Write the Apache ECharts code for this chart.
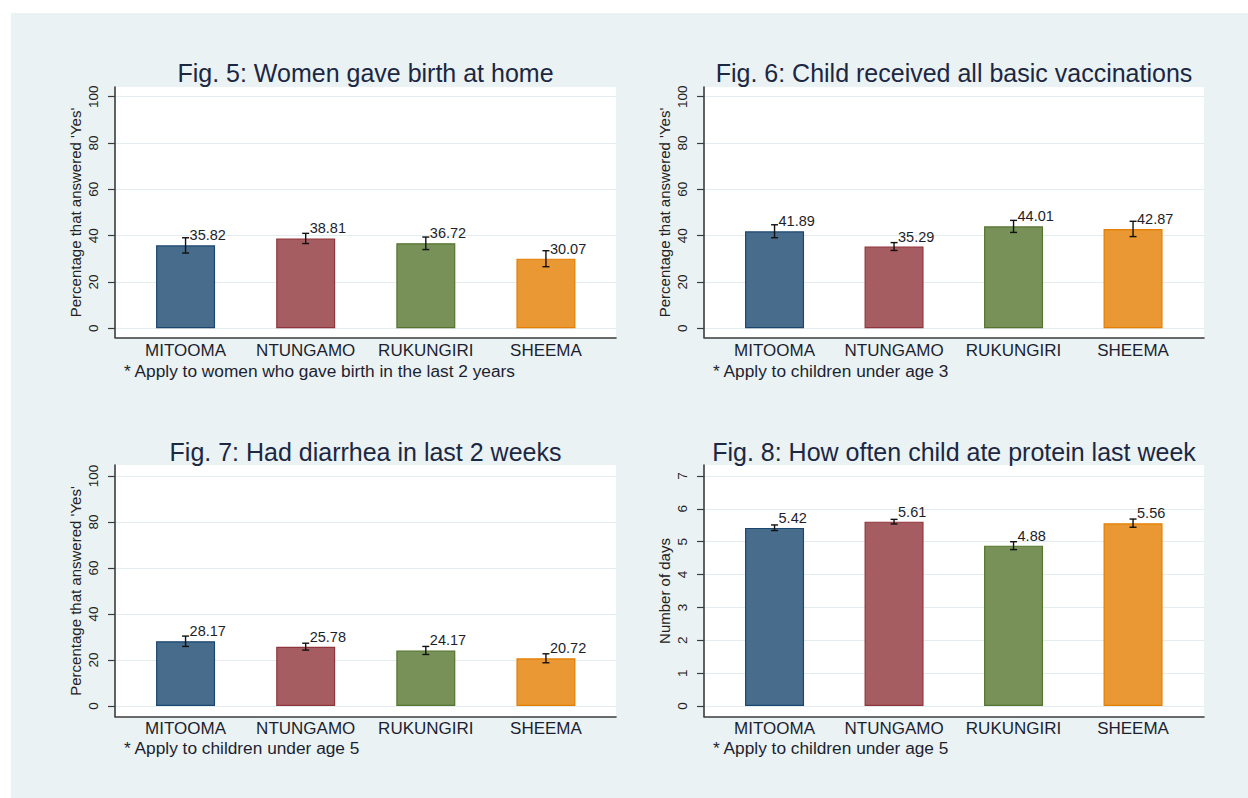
<!DOCTYPE html>
<html>
<head>
<meta charset="utf-8">
<title>District survey indicators</title>
<script src="https://cdn.jsdelivr.net/npm/echarts@6/dist/echarts.min.js"></script>
<style>
  html, body { margin: 0; padding: 0; background: #fff; }
  #chart { width: 1248px; height: 798px; }
</style>
</head>
<body>
<div id="chart"></div>
<script>
// districts shown under every panel
const districts = ['MITOOMA', 'NTUNGAMO', 'RUKUNGIRI', 'SHEEMA'];

// Fig. 5: women who gave birth at home (%), with CI ends
const homeBirth = [35.82, 38.81, 36.72, 30.07];
const homeBirthLow = [32.5, 36.6, 34.0, 26.6];
const homeBirthHigh = [39.1, 41.0, 39.4, 33.5];

// Fig. 6: child received all basic vaccinations (%)
const vaccinated = [41.89, 35.29, 44.01, 42.87];
const vaccinatedLow = [39.1, 33.6, 41.4, 39.6];
const vaccinatedHigh = [44.7, 37.0, 46.6, 46.2];

// Fig. 7: had diarrhea in last 2 weeks (%)
const diarrhea = [28.17, 25.78, 24.17, 20.72];
const diarrheaLow = [25.9, 24.3, 22.4, 18.8];
const diarrheaHigh = [30.4, 27.3, 25.9, 22.7];

// Fig. 8: days child ate protein last week
const proteinDays = [5.42, 5.61, 4.88, 5.56];
const proteinDaysLow = [5.34, 5.54, 4.76, 5.44];
const proteinDaysHigh = [5.51, 5.68, 5.00, 5.69];

// tick labels of the y axes
const pctTicks = [0, 20, 40, 60, 80, 100];
const dayTicks = [0, 1, 2, 3, 4, 5, 6, 7];

// bar fill / outline (stata s2color at 80% intensity)
const barFill = ['#486c8c', '#a65d62', '#779159', '#e99833'];
const barEdge = ['#1a476f', '#90353b', '#55752f', '#e37e00'];

const FONT = '"Liberation Sans", Arial, sans-serif';
const TITLE_COLOR = '#1c2742';
const TEXT_COLOR = '#1c1f30';

const panels = [
    { title: 'Fig. 5: Women gave birth at home', yName: "Percentage that answered 'Yes'",
      note: '* Apply to women who gave birth in the last 2 years',
      values: homeBirth, low: homeBirthLow, high: homeBirthHigh, ticks: pctTicks, col: 0, row: 0 },
    { title: 'Fig. 6: Child received all basic vaccinations', yName: "Percentage that answered 'Yes'",
      note: '* Apply to children under age 3',
      values: vaccinated, low: vaccinatedLow, high: vaccinatedHigh, ticks: pctTicks, col: 1, row: 0 },
    { title: 'Fig. 7: Had diarrhea in last 2 weeks', yName: "Percentage that answered 'Yes'",
      note: '* Apply to children under age 5',
      values: diarrhea, low: diarrheaLow, high: diarrheaHigh, ticks: pctTicks, col: 0, row: 1 },
    { title: 'Fig. 8: How often child ate protein last week', yName: 'Number of days',
      note: '* Apply to children under age 5',
      values: proteinDays, low: proteinDaysLow, high: proteinDaysHigh, ticks: dayTicks, col: 1, row: 1 }
];

// page layout (pixels)
const cols = [
    { frameL: 115, frameR: 616, bandL: 125.5, bandR: 606 },
    { frameL: 704, frameR: 1204, bandL: 714.8, bandR: 1192.8 }
];
const rows = [
    { frameT: 87, frameB: 337.3, zeroY: 328.3, maxY: 96.7, titleY: 72.7, noteY: 370.7 },
    { frameT: 465, frameB: 716.5, zeroY: 706, maxY: 476, titleY: 452, noteY: 748.3 }
];

function renderErr(params, api) {
    const i = api.value(0);
    const v = api.value(1);
    const top = api.coord([i, v]);
    const lo = api.coord([i, api.value(2)]);
    const hi = api.coord([i, api.value(3)]);
    const cap = 3.5;
    const ls = { stroke: '#111', lineWidth: 1.4 };
    return {
        type: 'group',
        children: [
            { type: 'line', shape: { x1: hi[0], y1: hi[1], x2: lo[0], y2: lo[1] }, style: ls },
            { type: 'line', shape: { x1: hi[0] - cap, y1: hi[1], x2: hi[0] + cap, y2: hi[1] }, style: ls },
            { type: 'line', shape: { x1: lo[0] - cap, y1: lo[1], x2: lo[0] + cap, y2: lo[1] }, style: ls },
            {
                type: 'text', x: top[0] + 4, y: top[1] - 10,
                style: { text: v.toFixed(2), fill: '#1e1e28', fontSize: 14.5, fontFamily: FONT,
                         align: 'left', verticalAlign: 'middle' }
            }
        ]
    };
}

const grid = [], xAxis = [], yAxis = [], series = [];
const graphic = [
    { type: 'rect', shape: { x: 11, y: 13, width: 1237, height: 785 }, style: { fill: '#eaf2f3' }, z: -100 }
];

panels.forEach((p) => {
    const c = cols[p.col];
    const r = rows[p.row];
    const yMin = p.ticks[0];
    const yMax = p.ticks[p.ticks.length - 1];
    const step = p.ticks[1] - p.ticks[0];
    const base = grid.length;

    // white plot area + axis lines
    grid.push({ left: c.frameL, top: r.frameT, width: c.frameR - c.frameL, height: r.frameB - r.frameT,
                show: true, backgroundColor: '#fff', borderWidth: 0, outerBoundsMode: 'none' });
    const frameAxis = {
        gridIndex: base, type: 'value', min: 0, max: 1,
        axisLine: { show: true, onZero: false, lineStyle: { color: '#3c3c3c', width: 1.6 } },
        axisTick: { show: false }, axisLabel: { show: false }, splitLine: { show: false }
    };
    xAxis.push(Object.assign({}, frameAxis));
    yAxis.push(Object.assign({}, frameAxis));

    // y scale, ticks, gridlines
    grid.push({ left: c.frameL, top: r.maxY, width: c.frameR - c.frameL, height: r.zeroY - r.maxY,
                outerBoundsMode: 'none' });
    xAxis.push({ gridIndex: base + 1, type: 'value', min: 0, max: 1, show: false });
    yAxis.push({
        gridIndex: base + 1, type: 'value', min: yMin, max: yMax, interval: step,
        name: p.yName, nameLocation: 'middle', nameGap: 32, nameRotate: 90,
        nameTextStyle: { fontSize: 15, color: '#222', fontFamily: FONT },
        axisLine: { show: false },
        axisTick: { show: true, length: 7, lineStyle: { color: '#3c3c3c', width: 1.2 } },
        axisLabel: { rotate: 90, margin: 15, fontSize: 13.5, color: '#222', fontFamily: FONT },
        splitLine: { show: true, lineStyle: { color: '#e3ecee', width: 1 } }
    });

    // bars
    grid.push({ left: c.bandL, top: r.maxY, width: c.bandR - c.bandL, height: r.zeroY - r.maxY,
                outerBoundsMode: 'none' });
    xAxis.push({
        gridIndex: base + 2, type: 'category', data: districts,
        axisLine: { show: false }, axisTick: { show: false }, splitLine: { show: false },
        axisLabel: { interval: 0, margin: 14, fontSize: 17, color: TEXT_COLOR, fontFamily: FONT }
    });
    yAxis.push({ gridIndex: base + 2, type: 'value', min: yMin, max: yMax, show: false });

    series.push({
        type: 'bar', xAxisIndex: base + 2, yAxisIndex: base + 2, barWidth: 59, silent: true, z: 2,
        data: p.values.map((v, i) => ({
            value: v,
            itemStyle: { color: barFill[i], borderColor: barEdge[i], borderWidth: 1.2 }
        }))
    });
    series.push({
        type: 'custom', xAxisIndex: base + 2, yAxisIndex: base + 2, silent: true, z: 3,
        renderItem: renderErr,
        encode: { x: 0, y: [1, 2, 3] },
        data: p.values.map((v, i) => [i, v, p.low[i], p.high[i]])
    });

    graphic.push({
        type: 'text', x: (c.frameL + c.frameR) / 2, y: r.titleY,
        style: { text: p.title, fill: TITLE_COLOR, fontSize: 25, fontFamily: FONT,
                 align: 'center', verticalAlign: 'middle' }
    });
    graphic.push({
        type: 'text', x: c.frameL + 9, y: r.noteY,
        style: { text: p.note, fill: TEXT_COLOR, fontSize: 17.3, fontFamily: FONT,
                 align: 'left', verticalAlign: 'middle' }
    });
});

const chart = echarts.init(document.getElementById('chart'), null, { renderer: 'svg' });
chart.setOption({
    animation: false,
    backgroundColor: '#fff',
    textStyle: { fontFamily: FONT },
    grid: grid,
    xAxis: xAxis,
    yAxis: yAxis,
    series: series,
    graphic: graphic
});
</script>
</body>
</html>
